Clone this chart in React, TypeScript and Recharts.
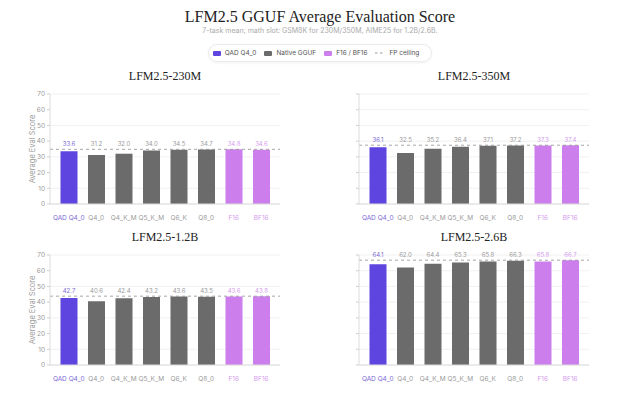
import { BarChart, Bar, XAxis, YAxis, CartesianGrid, ReferenceLine, Cell, LabelList } from "recharts";

const categories = ["QAD Q4_0", "Q4_0", "Q4_K_M", "Q5_K_M", "Q6_K", "Q8_0", "F16", "BF16"];
const groups = ["qad", "native", "native", "native", "native", "native", "fp", "fp"];

const scores230M = [33.6, 31.2, 32.0, 34.0, 34.5, 34.7, 34.8, 34.6];
const scores350M = [36.1, 32.5, 35.2, 36.4, 37.1, 37.2, 37.3, 37.4];
const scores1_2B = [42.7, 40.6, 42.4, 43.2, 43.6, 43.5, 43.6, 43.8];
const scores2_6B = [64.1, 62.0, 64.4, 65.3, 65.8, 66.3, 65.8, 66.7];

const fpCeilings = [34.8, 37.4, 43.8, 66.7];
const yTicks = [0, 10, 20, 30, 40, 50, 60, 70];

const barColor: Record<string, string> = { qad: "#5e45e0", native: "#6b6b6b", fp: "#cc7fec" };
const textColor: Record<string, string> = { qad: "#7c6cd6", native: "#9a9a9a", fp: "#d39ced" };

const sans = "Inter, 'Noto Sans', sans-serif";
const serif = "'Liberation Serif', 'DejaVu Serif', serif";

const CategoryTick = (props: any) => {
  const { x, y, payload, index } = props;
  return (
    <text x={x} y={y + 8} textAnchor="middle" fontSize={6.5} fontFamily={sans} fill={textColor[groups[index]]}>
      {payload.value}
    </text>
  );
};

// value labels sit in one row just above the FP ceiling line
const makeValueLabel = (ceiling: number) => (props: any) => {
  const { x, y, width, height, value, index } = props;
  const pxPerUnit = height / value;
  const lineY = y + height - ceiling * pxPerUnit;
  return (
    <text x={x + width / 2} y={lineY - 3.5} textAnchor="middle" fontSize={6} fontFamily={sans} fill={textColor[groups[index]]}>
      {Number(value).toFixed(1)}
    </text>
  );
};

interface PanelProps {
  title: string;
  scores: number[];
  ceiling: number;
  left: number;
  top: number;
  showYLabels: boolean;
}

const Panel = ({ title, scores, ceiling, left, top, showYLabels }: PanelProps) => {
  const data = categories.map((name, i) => ({ name, score: scores[i] }));
  const ValueLabel = makeValueLabel(ceiling);
  return (
    <div style={{ position: "absolute", left, top: top - 17, width: 290 }}>
      <div style={{ position: "absolute", left: 50, width: 230, textAlign: "center", fontFamily: serif, fontSize: 12, color: "#222", top: 1, lineHeight: "15px" }}>
        {title}
      </div>
      <div style={{ position: "absolute", top: 17 }}>
        <BarChart width={290} height={140} data={data} margin={{ top: 9, right: 10, bottom: 5, left: 10 }} barCategoryGap="20%">
          <CartesianGrid vertical={false} stroke="#f1f1f1" />
          <XAxis
            dataKey="name"
            interval={0}
            height={16}
            padding={{ left: 5, right: 5 }}
            tick={<CategoryTick />}
            tickLine={false}
            axisLine={{ stroke: "#dcdcdc" }}
          />
          <YAxis
            domain={[0, 70]}
            ticks={yTicks}
            width={40}
            tickSize={3}
            tickLine={{ stroke: "#cfcfcf" }}
            axisLine={{ stroke: "#dcdcdc" }}
            tick={{ fontSize: 6.5, fill: "#999", fontFamily: sans }}
            tickFormatter={(v) => (showYLabels ? String(v) : "")}
            label={
              showYLabels
                ? { value: "Average Eval Score", angle: -90, position: "center", dx: 2, style: { fontSize: 7.5, fill: "#999", fontFamily: sans } }
                : undefined
            }
          />
          <ReferenceLine y={ceiling} stroke="#8f8f8f" strokeDasharray="3 3" strokeWidth={0.8} />
          <Bar dataKey="score" isAnimationActive={false}>
            {data.map((d, i) => (
              <Cell key={d.name} fill={barColor[groups[i]]} />
            ))}
            <LabelList dataKey="score" content={<ValueLabel />} />
          </Bar>
        </BarChart>
      </div>
    </div>
  );
};

const LegendItem = ({ color, label, dashed }: { color?: string; label: string; dashed?: boolean }) => (
  <div style={{ display: "flex", alignItems: "center", marginRight: 8 }}>
    {dashed ? (
      <svg width={10} height={6} style={{ marginRight: 4 }}>
        <line x1={0} y1={3} x2={10} y2={3} stroke="#999" strokeDasharray="2.5 2.5" strokeWidth={1} />
      </svg>
    ) : (
      <div style={{ width: 8, height: 5, background: color, marginRight: 4, borderRadius: 1 }} />
    )}
    <span>{label}</span>
  </div>
);

export default function App() {
  return (
    <div style={{ position: "fixed", left: 0, top: 0, width: 640, height: 400, background: "#fff", overflow: "hidden" }}>
      <div style={{ position: "absolute", top: 7, width: 640, textAlign: "center", fontFamily: serif, fontSize: 16, color: "#222", lineHeight: "20px" }}>
        LFM2.5 GGUF Average Evaluation Score
      </div>
      <div style={{ position: "absolute", top: 26, width: 640, textAlign: "center", fontFamily: sans, fontSize: 7, color: "#aaa", lineHeight: "10px" }}>
        7-task mean; math slot: GSM8K for 230M/350M, AIME25 for 1.2B/2.6B.
      </div>
      <div
        style={{
          position: "absolute",
          left: 208,
          top: 44,
          width: 224,
          height: 18,
          boxSizing: "border-box",
          border: "1px solid #ebebeb",
          borderRadius: 9,
          boxShadow: "0 1px 3px rgba(0,0,0,0.06)",
          display: "flex",
          alignItems: "center",
          justifyContent: "center",
          fontFamily: sans,
          fontSize: 6.5,
          color: "#555",
        }}
      >
        <LegendItem color={barColor.qad} label="QAD Q4_0" />
        <LegendItem color={barColor.native} label="Native GGUF" />
        <LegendItem color={barColor.fp} label="F16 / BF16" />
        <LegendItem dashed label="FP ceiling" />
      </div>
      <Panel title="LFM2.5-230M" scores={scores230M} ceiling={fpCeilings[0]} left={0} top={85} showYLabels />
      <Panel title="LFM2.5-350M" scores={scores350M} ceiling={fpCeilings[1]} left={309} top={85} showYLabels={false} />
      <Panel title="LFM2.5-1.2B" scores={scores1_2B} ceiling={fpCeilings[2]} left={0} top={246} showYLabels />
      <Panel title="LFM2.5-2.6B" scores={scores2_6B} ceiling={fpCeilings[3]} left={309} top={246} showYLabels={false} />
    </div>
  );
}
